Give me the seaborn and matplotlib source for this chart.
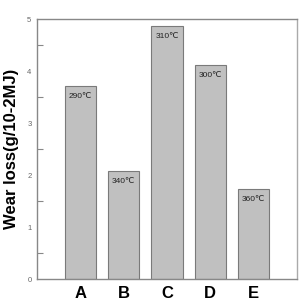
import matplotlib
matplotlib.use("Agg")
import matplotlib.pyplot as plt
import seaborn as sns
import pandas as pd
from matplotlib.ticker import MultipleLocator

categories = ["A", "B", "C", "D", "E"]
wear_loss = [3.71, 2.08, 4.87, 4.12, 1.73]
temps = ["290℃", "340℃", "310℃", "300℃", "360℃"]

df = pd.DataFrame({"cat": categories, "val": wear_loss, "temp": temps})

sns.set_style("white")
plt.rcParams['font.family'] = ['Liberation Sans', 'DejaVu Sans']

fig = plt.figure(figsize=(3.01, 3.0), dpi=100)
ax = fig.add_axes([37/301, 21/300, 260/301, 260/300])

sns.barplot(data=df, x="cat", y="val", color="#c0c0c0", saturation=1,
            edgecolor="#7a7a7a", linewidth=0.8, width=0.72, ax=ax)

for i, (v, t) in enumerate(zip(wear_loss, temps)):
    ax.text(i, v - 0.13, t, ha="center", va="top", fontsize=6,
            color="#222222", family=["Liberation Sans", "DejaVu Sans"])

ax.set_xlim(-1, 5)
ax.set_ylim(0, 5)
ax.yaxis.set_major_locator(MultipleLocator(1))
ax.yaxis.set_minor_locator(MultipleLocator(0.5))
ax.tick_params(axis="y", which="major", direction="in", length=8, width=0.8,
               color="#888888", labelsize=5.5, labelcolor="#666666", pad=4)
ax.tick_params(axis="y", which="minor", direction="in", length=4, width=0.8,
               color="#888888", left=True)
ax.tick_params(axis="x", length=0, labelsize=12, pad=5, labelcolor="black")
for lab in ax.get_xticklabels():
    lab.set_fontweight("bold")
ax.set_xlabel("")
ax.set_ylabel("Wear loss(g/10-2MJ)", fontsize=12, fontweight="bold",
              labelpad=6, color="black")

for s in ["top", "right", "left", "bottom"]:
    ax.spines[s].set_visible(True)
    ax.spines[s].set_color("#888888")
    ax.spines[s].set_linewidth(1.0)
ax.spines["right"].set_color("#aaaaaa")

fig.savefig("out.png", dpi=100)
